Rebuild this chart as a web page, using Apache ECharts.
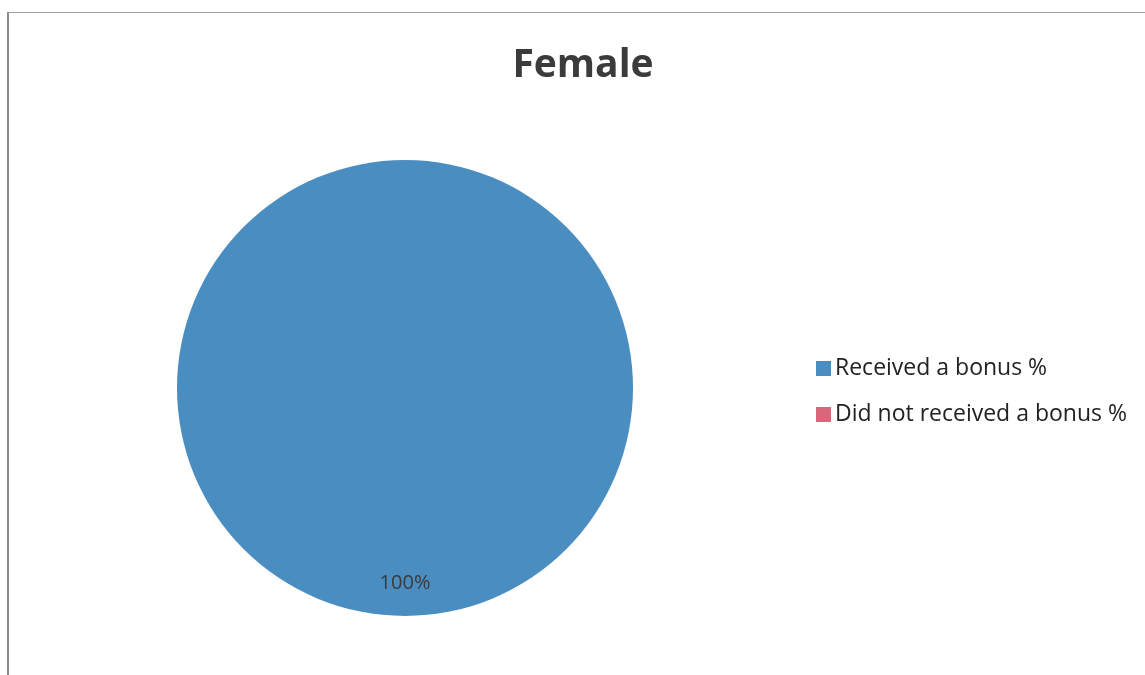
<!DOCTYPE html>
<html>
<head>
<meta charset="utf-8">
<script src="https://cdn.jsdelivr.net/npm/echarts@6/dist/echarts.min.js"></script>
<style>
html,body{margin:0;padding:0;background:#fff;overflow:hidden;}
#frame{position:absolute;left:7px;top:12px;width:1200px;height:700px;border-left:2px solid #8a8a8a;border-top:1.5px solid #a0a0a0;box-sizing:border-box;}
#chart{position:absolute;left:0;top:0;width:1145px;height:675px;}
</style>
</head>
<body>
<div id="frame"></div>
<div id="chart"></div>
<script>
var chartTitle = 'Female';
var categories = ['Received a bonus %', 'Did not received a bonus %'];
var values = [100, 0];
var colors = ['#4a8dc0', '#d9677a'];

var chart = echarts.init(document.getElementById('chart'));
chart.setOption({
  animation: false,
  color: colors,
  title: {
    text: chartTitle,
    left: 578,
    top: 41,
    textAlign: 'center',
    textStyle: {fontFamily: 'Open Sans', fontWeight: 'bold', fontSize: 39, color: '#3b3b3b'}
  },
  legend: {
    orient: 'vertical',
    left: 811,
    top: 352,
    itemWidth: 15,
    itemHeight: 15,
    itemGap: 23,
    icon: 'rect',
    data: categories,
    textStyle: {fontFamily: 'Open Sans', fontSize: 23, color: '#222', padding: [0,0,0,-1]}
  },
  series: [{
    type: 'pie',
    center: [405, 388],
    radius: 228,
    startAngle: 90,
    clockwise: true,
    minAngle: 0,
    avoidLabelOverlap: false,
    silent: true,
    itemStyle: {borderWidth: 0},
    label: {
      show: true,
      position: 'inside',
      offset: [0, 78],
      fontFamily: 'Open Sans',
      fontSize: 20,
      color: '#3a3a3a',
      formatter: function (p) { return p.value > 0 ? p.value + '%' : ''; }
    },
    labelLine: {show: false},
    data: categories.map(function (c, i) { return {name: c, value: values[i]}; })
  }]
});
</script>
</body>
</html>
